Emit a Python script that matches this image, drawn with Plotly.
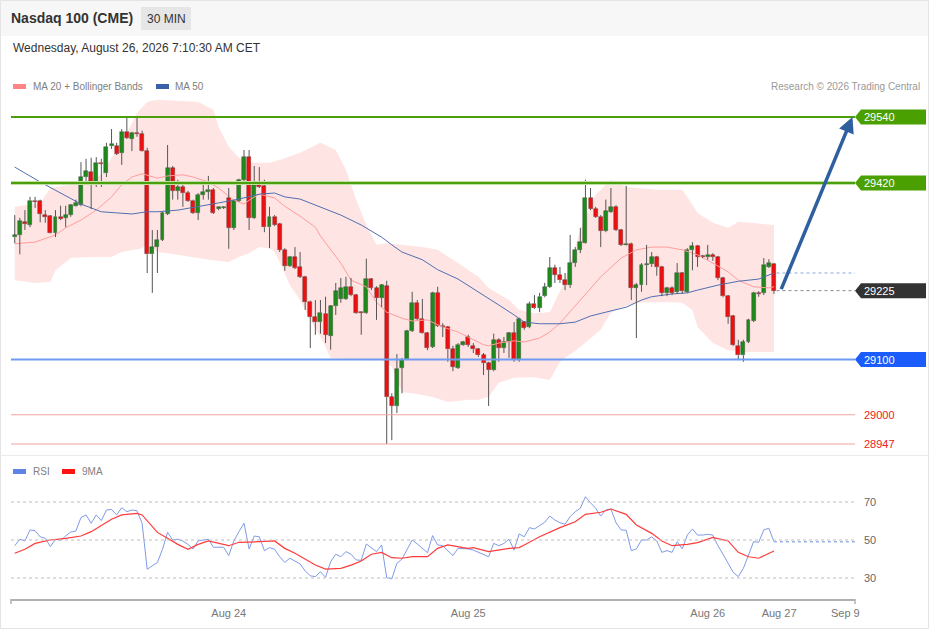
import plotly.graph_objects as go

# ---------------- data ----------------
opens = [29322,29326,29349,29344,29388,29387,29362,29360,29330,29359,
         29357,29362,29378,29380,29431,29440,29422,29457,29438,29487,
         29487,29475,29513,29500,29511,29509,29478,29291,29304,29317,
         29364,29447,29406,29413,29402,29388,29366,29399,29404,29408,
         29373,29375,29393,29339,29388,29426,29467,29357,29420,29415,
         29340,29359,29346,29299,29270,29286,29268,29250,29205,29177,
         29168,29183,29143,29197,29210,29210,29232,29217,29187,29185,
         29246,29230,29212,29233,29032,29016,29085,29101,29152,29203,
         29174,29148,29123,29221,29161,29159,29119,29085,29127,29141,
         29125,29119,29108,29094,29081,29136,29121,29132,29148,29099,
         29168,29159,29201,29194,29215,29232,29266,29254,29244,29235,
         29275,29299,29311,29393,29373,29359,29333,29368,29377,29335,
         29308,29310,29230,29235,29272,29273,29286,29268,29221,29230,
         29223,29257,29223,29299,29306,29288,29286,29290,29286,29248,
         29215,29179,29125,29108,29132,29170,29221,29221,29268,29273]
highs = [29362,29357,29371,29395,29395,29390,29371,29362,29371,29379,
         29379,29382,29390,29458,29464,29466,29467,29464,29493,29518,
         29493,29518,29540,29513,29540,29515,29484,29335,29335,29368,
         29489,29451,29426,29420,29406,29390,29402,29417,29433,29411,
         29378,29378,29411,29389,29428,29480,29480,29451,29449,29426,
         29377,29362,29348,29302,29288,29304,29295,29252,29207,29208,
         29208,29214,29199,29239,29248,29250,29248,29219,29188,29283,
         29248,29233,29237,29243,29039,29110,29103,29154,29223,29208,
         29210,29150,29223,29232,29166,29161,29125,29130,29134,29145,
         29130,29121,29112,29096,29147,29139,29141,29150,29168,29176,
         29170,29205,29217,29221,29239,29286,29272,29268,29257,29326,
         29304,29339,29426,29411,29377,29362,29390,29411,29380,29337,
         29415,29312,29239,29275,29308,29295,29288,29270,29232,29233,
         29275,29259,29302,29313,29308,29290,29308,29293,29288,29250,
         29217,29181,29136,29136,29174,29223,29224,29284,29282,29275]
lows = [29311,29291,29335,29340,29375,29349,29348,29329,29322,29353,
        29340,29359,29377,29378,29422,29373,29413,29413,29431,29482,
        29471,29453,29500,29478,29504,29477,29257,29221,29257,29315,
        29362,29390,29390,29377,29386,29364,29353,29390,29390,29364,
        29371,29373,29301,29335,29386,29422,29335,29355,29411,29331,
        29302,29342,29295,29261,29268,29264,29248,29190,29121,29145,
        29147,29130,29118,29181,29203,29208,29215,29183,29145,29183,
        29226,29172,29195,28947,28954,29003,29039,29099,29150,29172,
        29147,29117,29121,29159,29141,29096,29079,29083,29125,29123,
        29112,29105,29072,29016,29079,29096,29112,29103,29096,29096,
        29154,29157,29192,29186,29213,29230,29239,29239,29226,29230,
        29268,29293,29310,29371,29357,29304,29331,29366,29333,29306,
        29307,29208,29139,29223,29235,29268,29252,29215,29215,29217,
        29219,29219,29221,29262,29268,29284,29281,29279,29244,29213,
        29165,29125,29099,29096,29130,29168,29214,29217,29266,29219]
closes = [29326,29351,29346,29388,29386,29364,29359,29330,29359,29355,
          29362,29380,29384,29431,29442,29422,29457,29455,29486,29491,
          29473,29513,29502,29511,29509,29478,29291,29304,29317,29366,
          29447,29406,29413,29402,29388,29366,29399,29404,29408,29366,
          29377,29376,29339,29388,29426,29467,29357,29420,29413,29340,
          29359,29344,29299,29270,29286,29266,29250,29205,29177,29168,
          29185,29145,29197,29224,29230,29232,29217,29185,29185,29246,
          29230,29212,29235,29032,29016,29083,29099,29152,29203,29174,
          29148,29121,29221,29161,29159,29119,29087,29127,29132,29127,
          29119,29108,29094,29081,29136,29121,29132,29148,29099,29174,
          29157,29201,29194,29214,29232,29266,29254,29244,29235,29275,
          29299,29313,29393,29373,29359,29333,29369,29377,29335,29308,
          29310,29230,29235,29272,29273,29286,29268,29221,29230,29221,
          29257,29225,29299,29306,29286,29286,29290,29286,29248,29215,
          29177,29127,29108,29132,29172,29221,29219,29272,29275,29225]

ma20_idx = [0,4,8,10,13,16,19,21,23,25,28,30,33,35,38,40,43,45,46,48,
            51,53,56,59,60,64,66,69,71,73,76,78,81,84,87,89,92,93,95,98,
            100,103,105,107,111,115,119,122,125,128,131,134,137,140,142,145,148,149]
ma20_val = [29310,29313,29326,29339,29353,29371,29395,29417,29431,29437,
            29429,29433,29435,29431,29422,29411,29389,29382,29389,29400,
            29393,29378,29360,29340,29324,29275,29244,29232,29204,29186,
            29175,29170,29172,29159,29150,29141,29127,29125,29130,29134,
            29132,29139,29150,29166,29208,29250,29284,29299,29304,29304,
            29299,29290,29275,29259,29244,29232,29230,29232]

ma50_idx = [0,5,13,17,20,23,26,28,32,36,40,44,46,48,51,53,56,60,64,68,
            72,74,76,80,83,87,91,95,98,100,103,107,110,113,116,120,123,125,129,132,
            134,138,142,146,149]
ma50_val = [29449,29422,29382,29368,29366,29364,29368,29368,29371,29377,
            29384,29391,29395,29400,29402,29395,29391,29377,29362,29344,
            29322,29308,29295,29281,29263,29246,29223,29199,29181,29168,
            29165,29165,29168,29179,29186,29195,29208,29214,29219,29221,
            29226,29235,29242,29246,29257]

bb_up_idx = [0,5,7,13,17,19,22,24,26,28,36,39,40,42,44,46,50,52,56,60,
             63,65,67,69,71,73,80,83,87,91,93,97,99,102,105,108,111,114,117,120,
             126,131,132,134,137,140,142,149]
bb_up_val = [29377,29384,29411,29420,29435,29466,29511,29547,29567,29571,
             29567,29553,29522,29486,29466,29457,29457,29462,29475,29493,
             29480,29444,29390,29344,29308,29311,29304,29299,29275,29250,
             29230,29208,29190,29184,29186,29244,29335,29399,29426,29413,
             29408,29408,29395,29366,29348,29339,29350,29344]
bb_lo_idx = [0,4,7,8,11,15,19,21,25,26,28,32,38,42,44,46,48,50,51,52,
             54,56,58,60,61,62,69,72,74,76,78,82,85,89,91,93,95,98,102,105,
             107,111,115,117,119,122,125,129,131,133,134,137,140,144,149]
bb_lo_val = [29244,29239,29241,29262,29284,29286,29286,29295,29302,29311,
             29295,29290,29281,29277,29286,29293,29304,29302,29295,29277,
             29235,29208,29172,29141,29123,29103,29099,29099,29087,29041,
             29039,29032,29023,29027,29027,29032,29058,29067,29068,29063,
             29096,29123,29154,29185,29195,29203,29204,29204,29203,29190,
             29159,29130,29117,29114,29114]

rsi = [47,50.4,49.5,55.3,54.9,51.7,50.9,46.5,50.4,49.8,
       52.1,54.2,54.7,61.8,63.2,58.8,63.2,60.2,65.8,66.1,
       63.2,67,64.9,65.8,65.4,58.8,34.6,36.3,38.2,45.1,
       54,50,50.4,49.5,47.7,45.3,49.5,50,50.4,46.2,
       46.3,46.2,41.8,49.5,54.4,58.8,45.3,52.1,51.7,44.4,
       46,45.1,41.2,38.2,40.4,38.9,37.4,33.7,31.2,30.7,
       33.3,30.4,38.6,42.5,41.2,43.9,42.5,39.5,39.3,47.9,
       46,43.9,47.4,30.2,29.5,37.7,40,44.7,50,47.9,
       45.6,43.3,52.3,47.4,47,44.4,41.8,45.6,45.6,45.3,
       44.7,43.5,42.5,41.2,48.2,47,48.2,50.4,44.7,53.2,
       51.7,56.5,55.8,57.5,59.3,62.6,60.5,59.1,58.3,62.3,
       64.9,66.7,72.8,69.6,66.7,62.6,65.8,66.3,59.1,55.3,
       55.1,44.4,45.3,50,50,51.7,49.5,43.5,44.4,43.5,
       49.1,45.3,52.6,55.8,52.6,52.6,53,52.6,47,42.5,
       37.7,33,30.7,35.1,42.1,49.1,48.8,55.3,56.2,49.1]
ma9_idx = [0,2,4,7,10,13,15,17,19,21,24,25,27,28,30,32,34,36,38,40,
           42,44,46,48,51,53,55,57,59,61,64,66,68,70,72,74,76,78,81,83,
           85,88,89,90,93,97,99,100,103,107,110,112,115,117,120,122,125,127,129,132,
           134,137,140,142,144,146,149]
ma9_val = [43,45.1,48.2,50,50.9,52.1,54.4,57.5,60.9,63.2,
           64,63.2,57,54,50.9,47.7,45.1,47.7,49.5,48.2,
           47,48.8,48.8,49.1,49.5,45.6,43,40,36.8,34.7,
           35.1,36.8,38.9,42.5,43.5,40.7,40.4,41.2,41.2,45.6,
           47.4,46,45.6,46,43.9,45.6,46,47.4,51.7,56.5,
           59.6,63.5,64.6,66.3,63.5,57.9,53.5,49.5,47,47.7,
           48.6,51.4,49.5,43.5,41.2,40.4,44.2]

tick_idx = [42, 89, 136, 150, 163]
tick_text = ["Aug 24", "Aug 25", "Aug 26", "Aug 27", "Sep 9"]

resistance = [29540, 29420]
pivot = 29100
last_price = 29225
supports = [29000, 28947]
rsi_levels = [70, 50, 30]
arrow_from_bar, arrow_to_bar = 150.3, 164.4

# ---------------- layout geometry ----------------
W, H = 929, 629
ML, MR, MT, MB = 11, 74, 95, 30
PW, PH = W - ML - MR, H - MT - MB
X_RANGE = [-0.73, 164.9]
Y_RANGE = [28932.5, 29579.7]
R_RANGE = [18.95, 81.58]
FONT = "Liberation Sans, Arial, sans-serif"


def px(xp):
    return (xp - ML) / PW


def py(yp):
    return (H - MB - yp) / PH


PPX = (Y_RANGE[1] - Y_RANGE[0]) / (452 - 95)  # price units per pixel

n = len(closes)
idx = list(range(n))

# wicks (split around bodies)
wx, wy = [], []
for i in idx:
    top, bot = max(opens[i], closes[i]), min(opens[i], closes[i])
    wx += [i, i, None, i, i, None]
    wy += [highs[i], top, None, bot, lows[i], None]
bases = [min(o, c) for o, c in zip(opens, closes)]
heights = [max(abs(c - o), 1.8) for o, c in zip(opens, closes)]
cols = ["#1f8a1c" if c >= o else "#ee1010" for o, c in zip(opens, closes)]

fig = go.Figure()

fig.add_trace(go.Scatter(x=ma20_idx, y=ma20_val, mode="lines",
                         line=dict(color="#ff9c9c", width=1), xaxis="x", yaxis="y"))
fig.add_trace(go.Scatter(x=ma50_idx, y=ma50_val, mode="lines",
                         line=dict(color="#4f6fb0", width=1), xaxis="x", yaxis="y"))
fig.add_trace(go.Scatter(x=wx, y=wy, mode="lines", line=dict(color="#555555", width=1),
                         xaxis="x", yaxis="y", connectgaps=False))
fig.add_trace(go.Bar(x=idx, y=heights, base=bases, width=0.78,
                     marker=dict(color=cols, line=dict(color="rgba(40,40,40,0.55)", width=0.6)),
                     xaxis="x", yaxis="y"))

fig.add_trace(go.Scatter(x=idx, y=rsi, mode="lines", line=dict(color="#7f9be8", width=1),
                         xaxis="x2", yaxis="y2"))
fig.add_trace(go.Scatter(x=ma9_idx, y=ma9_val, mode="lines", line=dict(color="#ff3b3b", width=1.2),
                         xaxis="x2", yaxis="y2"))

shapes = []
# Bollinger band area
pts = list(zip(bb_up_idx, bb_up_val)) + list(zip(bb_lo_idx, bb_lo_val))[::-1]
path = "M " + " L ".join(f"{a},{b}" for a, b in pts) + " Z"
shapes.append(dict(type="path", xref="x", yref="y", path=path, fillcolor="#ffe4e4",
                   line=dict(width=0), layer="below"))

# header band and frame
shapes.append(dict(type="rect", xref="paper", yref="paper", x0=px(0), x1=px(929), y0=py(36), y1=py(0),
                   fillcolor="#f7f7f7", line=dict(width=0), layer="below"))
shapes.append(dict(type="rect", xref="paper", yref="paper", x0=px(141), x1=px(191), y0=py(30), y1=py(7),
                   fillcolor="#e6e6e6", line=dict(width=0), layer="below"))
shapes.append(dict(type="rect", xref="paper", yref="paper", x0=px(0.5), x1=px(928.5), y0=py(628.5), y1=py(0.5),
                   line=dict(color="#e4e4e4", width=1), fillcolor="rgba(0,0,0,0)"))
shapes.append(dict(type="line", xref="paper", yref="paper", x0=px(0), x1=px(929), y0=py(455.5), y1=py(455.5),
                   line=dict(color="#ebebeb", width=1)))

# level lines
for lv in resistance:
    if lv == resistance[1]:
        shapes.append(dict(type="line", xref="paper", yref="y", x0=0, x1=1, y0=lv, y1=lv,
                           line=dict(color="#bfe0a0", width=4)))
    shapes.append(dict(type="line", xref="paper", yref="y", x0=0, x1=1, y0=lv, y1=lv,
                       line=dict(color="#4c9f0c", width=2)))
shapes.append(dict(type="line", xref="paper", yref="y", x0=0, x1=1, y0=pivot, y1=pivot,
                   line=dict(color="#6f9cf2", width=2)))
for lv in supports:
    shapes.append(dict(type="line", xref="paper", yref="y", x0=0, x1=1, y0=lv, y1=lv,
                       line=dict(color="#f5a0a0", width=1)))
shapes.append(dict(type="line", xref="x", yref="y", x0=n - 1 + 0.5, x1=X_RANGE[1],
                   y0=last_price, y1=last_price, line=dict(color="#888888", width=1, dash="dot")))
shapes.append(dict(type="line", xref="x", yref="y", x0=n - 1 + 0.5, x1=X_RANGE[1],
                   y0=ma50_val[-1], y1=ma50_val[-1], line=dict(color="#8aa6dc", width=1, dash="dot")))

# RSI grid & projection
for lv in rsi_levels:
    shapes.append(dict(type="line", xref="paper", yref="y2", x0=0, x1=1, y0=lv, y1=lv,
                       line=dict(color="#bdbdbd", width=1, dash="dot")))
shapes.append(dict(type="line", xref="x2", yref="y2", x0=n - 1, x1=X_RANGE[1], y0=rsi[-1], y1=rsi[-1],
                   line=dict(color="#9fb3ee", width=1.5, dash="dot")))
# axis end caps
for xe in (0, 1):
    shapes.append(dict(type="line", xref="paper", yref="paper", x0=xe, x1=xe, y0=0, y1=-5 / PH,
                       line=dict(color="#b0b0b0", width=1.5)))

annotations = []


def tag(level, color, text_color="white", box=True):
    half = 7.5 * PPX
    if box:
        p = (f"M {px(855)},{level} L {px(861)},{level + half} L {px(926)},{level + half} "
             f"L {px(926)},{level - half} L {px(861)},{level - half} Z")
        shapes.append(dict(type="path", xref="paper", yref="y", path=p, fillcolor=color, line=dict(width=0)))
    annotations.append(dict(x=px(862), y=level, xref="paper", yref="y", text=str(level), showarrow=False,
                            xanchor="left", yanchor="middle",
                            font=dict(family=FONT, size=11, color=text_color)))


for lv in resistance:
    tag(lv, "#4aa000")
tag(last_price, "#333333")
tag(pivot, "#1b5dfb")
for lv in supports:
    tag(lv, None, text_color="#ee2020", box=False)

for lv in rsi_levels:
    annotations.append(dict(x=px(862), y=lv, xref="paper", yref="y2", text=str(lv), showarrow=False,
                            xanchor="left", yanchor="middle", font=dict(family=FONT, size=11, color="#666")))

# target arrow
annotations.append(dict(x=arrow_to_bar, y=resistance[0], xref="x", yref="y",
                        ax=arrow_from_bar, ay=last_price, axref="x", ayref="y",
                        text="", showarrow=True, arrowhead=2, arrowsize=0.9, arrowwidth=3.5,
                        arrowcolor="#2f5f9f", standoff=0))


# texts: header, date, legends
def label(xp, yp, text, size, color, anchor="left", bold=False):
    annotations.append(dict(x=px(xp), y=py(yp), xref="paper", yref="paper",
                            text=f"<b>{text}</b>" if bold else text, showarrow=False,
                            xanchor=anchor, yanchor="middle", font=dict(family=FONT, size=size, color=color)))


label(9, 18, "Nasdaq 100 (CME)", 14, "#333333", bold=True)
label(166, 19, "30 MIN", 12, "#333333", anchor="center")
label(11, 48, "Wednesday, August 26, 2026 7:10:30 AM CET", 12, "#333333")
label(31, 86, "MA 20 + Bollinger Bands", 10, "#808080")
label(173, 86, "MA 50", 10, "#808080")
label(922, 86, "Research © 2026 Trading Central", 10, "#9a9a9a", anchor="right")
label(31, 471, "RSI", 10, "#808080")
label(80, 471, "9MA", 10, "#808080")

for x0, x1, y0, y1, c in [(13, 26, 84, 89, "#ff8585"), (156, 169, 84, 89, "#3a61a8"),
                          (13, 26, 469, 474, "#5f84e6"), (62, 75, 469, 474, "#ff1414")]:
    shapes.append(dict(type="rect", xref="paper", yref="paper", x0=px(x0), x1=px(x1), y0=py(y1), y1=py(y0),
                       fillcolor=c, line=dict(width=0)))

fig.update_layout(
    width=W, height=H, margin=dict(l=ML, r=MR, t=MT, b=MB, autoexpand=False),
    paper_bgcolor="white", plot_bgcolor="white", showlegend=False,
    font=dict(family=FONT),
    bargap=0,
    xaxis=dict(range=X_RANGE, visible=False, anchor="y", automargin=False),
    yaxis=dict(range=Y_RANGE, domain=[py(452), 1], visible=False, fixedrange=True, automargin=False),
    xaxis2=dict(range=X_RANGE, anchor="y2", showline=True, linecolor="#b0b0b0", linewidth=1.5,
                showgrid=False, zeroline=False, tickvals=tick_idx, ticktext=tick_text,
                ticks="outside", ticklen=3, tickcolor="rgba(0,0,0,0)", automargin=False,
                tickfont=dict(family=FONT, size=11, color="#777777")),
    yaxis2=dict(range=R_RANGE, domain=[0, py(480)], visible=False, automargin=False),
    shapes=shapes, annotations=annotations,
)

fig.write_html("out.html", config={"displayModeBar": False},
               post_script="document.body.style.margin='0';document.body.style.overflow='hidden';")
